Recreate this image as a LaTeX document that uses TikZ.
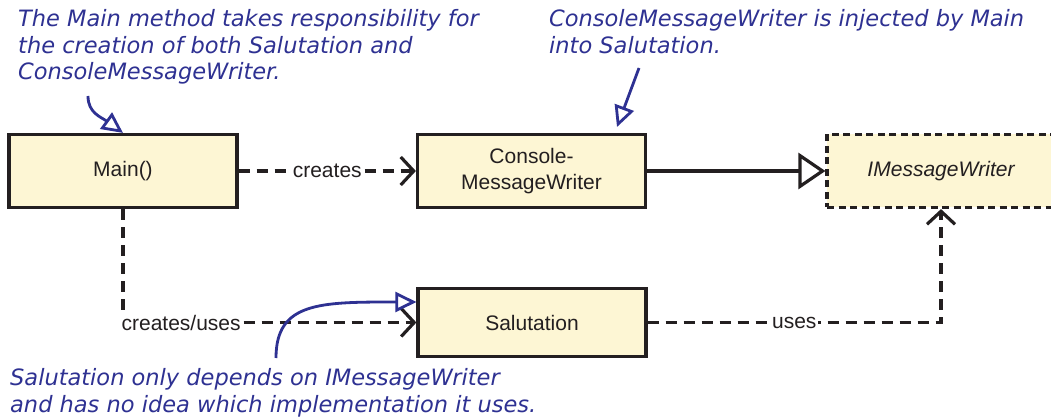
\documentclass[tikz,border=0pt]{standalone}
\usepackage{fontspec}
\setmainfont{Liberation Sans}
\newfontfamily\notefont{DejaVu Sans}
\usetikzlibrary{arrows.meta,calc}

\definecolor{boxfill}{RGB}{253,246,212}
\definecolor{ink}{RGB}{35,31,32}
\definecolor{noteblue}{RGB}{46,49,146}

\begin{document}
\begin{tikzpicture}[x=1pt,y=-1pt,
  cls/.style={draw=ink, fill=boxfill, line width=3.2pt, minimum width=228pt,
    minimum height=73pt, inner sep=0pt, align=center, text=ink,
    font=\fontsize{21}{26}\selectfont},
  iface/.style={cls, dash pattern=on 7pt off 4.5pt,
    font=\fontsize{21}{26}\selectfont\itshape},
  dep/.style={draw=ink, line width=3.2pt, dash pattern=on 11pt off 7pt,
    -{Straight Barb[length=13pt,width=28pt]}},
  impl/.style={draw=ink, line width=3.2pt,
    -{Triangle[open,length=27pt,width=36pt]}},
  lbl/.style={fill=white, inner sep=2pt, text=ink,
    font=\fontsize{21}{26}\selectfont},
  note/.style={text=noteblue, inner sep=0pt, align=left,
    font=\fontsize{22.5}{26.6}\notefont\itshape},
  noteline/.style={draw=noteblue, line width=2.8pt,
    -{Triangle[open,length=21pt,width=20pt]}}
]
\fill[white] (0,0) rectangle (1051,419);
\useasboundingbox (0,0) rectangle (1051,419);

% classes
\node[cls] (main) at (123,171) {Main()};
\node[cls] (cmw) at (531.5,171) {Console-\\MessageWriter};
\node[iface] (imw) at (941,171) {IMessageWriter};
\node[cls, minimum height=68pt] (sal) at (532,322.5) {Salutation};

% relations
\draw[dep] (main) -- node[lbl] {creates} (cmw);
\draw[impl] (cmw) -- (imw);
\draw[dep] (main) |- node[lbl, pos=0.5, anchor=west, xshift=-5pt] {creates/uses} (sal);
\draw[dep] (sal) -| node[lbl, pos=0.25] {uses} (imw);

% annotations (base anchor sits on the last line)
\node[note, anchor=base west] (note1) at (18,80)
  {The Main method takes responsibility for\\the creation of both Salutation and\\ConsoleMessageWriter.};
\node[note, anchor=base west] (note2) at (549,53.5)
  {ConsoleMessageWriter is injected by Main\\into Salutation.};
\node[note, anchor=base west] (note3) at (10,412)
  {Salutation only depends on IMessageWriter\\and has no idea which implementation it uses.};

\coordinate (n1) at (88,96);
\coordinate (n2) at (639,68);
\coordinate (n2tip) at (617,127);
\coordinate (n3) at (276,358);

\draw[noteline] (n1) .. controls (88,113) and (101,117) .. (main.north);
\draw[noteline] (n2) -- (n2tip);
\draw[noteline] (n3) .. controls (276,302) and (320,302) .. ($(sal.west)+(0,-20.5)$);
\end{tikzpicture}
\end{document}
